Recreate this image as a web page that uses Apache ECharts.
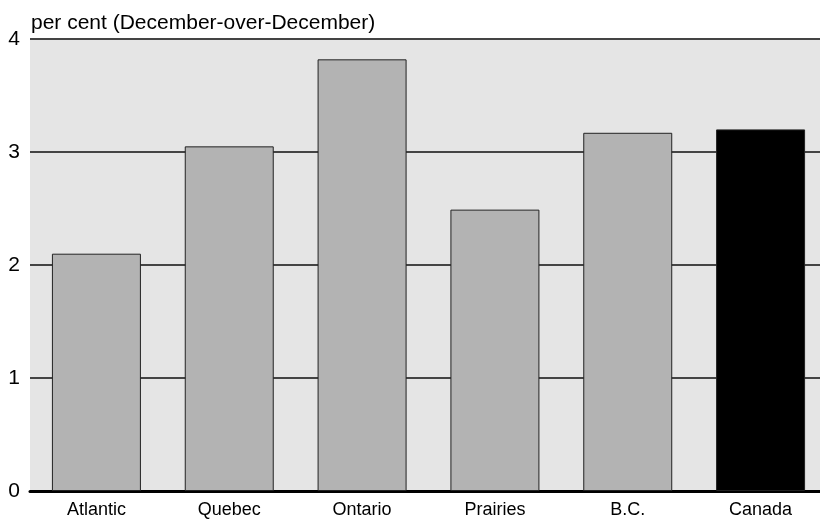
<!DOCTYPE html>
<html>
<head>
<meta charset="utf-8">
<script src="https://cdn.jsdelivr.net/npm/echarts@6/dist/echarts.min.js"></script>
<style>
  html, body { margin: 0; padding: 0; background: #ffffff; }
  #chart { width: 820px; height: 522px; }
</style>
</head>
<body>
<div id="chart"></div>
<script>
// Regions and their December-over-December inflation, per cent
const regions = ['Atlantic', 'Quebec', 'Ontario', 'Prairies', 'B.C.', 'Canada'];
const inflation = [2.1, 3.05, 3.82, 2.49, 3.17, 3.2];
const yTicks = [0, 1, 2, 3, 4];
const unitLabel = 'per cent (December-over-December)';

// National total is drawn in black, provinces/regions in grey
const barColors = regions.map(r => (r === 'Canada' ? '#000000' : '#b3b3b3'));

const chart = echarts.init(document.getElementById('chart'), null, { renderer: 'canvas' });

chart.setOption({
  animation: false,
  backgroundColor: '#ffffff',
  textStyle: { fontFamily: 'Liberation Sans, Arial, sans-serif', color: '#000' },
  title: {
    text: unitLabel,
    left: 26,
    top: 8,
    textStyle: { fontSize: 21, fontWeight: 'normal', color: '#000', fontFamily: 'Liberation Sans, Arial, sans-serif' }
  },
  grid: {
    left: 30,
    top: 39,
    width: 797,
    height: 452,
    outerBoundsMode: 'none',
    containLabel: false,
    show: true,
    backgroundColor: '#e5e5e5',
    borderWidth: 0
  },
  xAxis: {
    type: 'category',
    data: regions,
    axisLine: { show: true, lineStyle: { color: '#000', width: 3 } },
    axisTick: { show: false },
    axisLabel: { fontSize: 18, color: '#000', margin: 10 },
    splitLine: { show: false }
  },
  yAxis: {
    type: 'value',
    min: yTicks[0],
    max: yTicks[yTicks.length - 1],
    interval: 1,
    axisLine: { show: false },
    axisTick: { show: false },
    axisLabel: { fontSize: 21, color: '#000', margin: 10 },
    splitLine: { show: true, lineStyle: { color: '#444', width: 2 } }
  },
  series: [{
    type: 'bar',
    data: inflation.map((v, i) => ({ value: v, itemStyle: { color: barColors[i] } })),
    barCategoryGap: '33%',
    itemStyle: { borderColor: '#222', borderWidth: 1 }
  }]
});
</script>
</body>
</html>
